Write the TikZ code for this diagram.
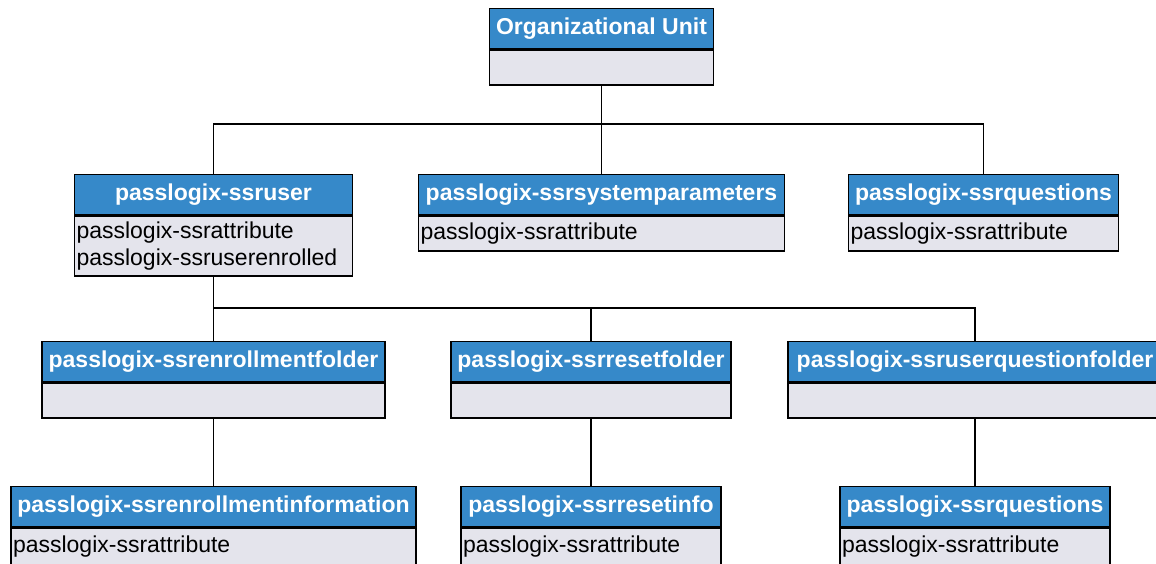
\documentclass[tikz,border=0pt]{standalone}
\usepackage{fontspec}
\setmainfont{Liberation Sans}
\definecolor{hdrblue}{RGB}{54,137,201}
\definecolor{bodygrey}{RGB}{228,228,236}
\begin{document}
\begin{tikzpicture}[x=1pt,y=-1pt,
  hdr/.style={draw=black, line width=1.8pt, fill=hdrblue, text=white,
    font=\fontsize{23}{27}\selectfont\bfseries, minimum height=40pt,
    inner sep=0pt, anchor=north},
  bod/.style={draw=black, line width=1.8pt, fill=bodygrey, text=black,
    font=\fontsize{23}{27}\selectfont, minimum height=35pt,
    inner xsep=2pt, inner ysep=0pt, align=left, anchor=north},
  conn/.style={draw=black, line width=1.4pt}]
\useasboundingbox (0,0) rectangle (1156,563);
% level 0
\node[hdr, minimum width=224pt] (org) at (601.5,7.5) {Organizational Unit};
\node[bod, minimum width=224pt, text width=220pt] (orgb) at (org.south) {};
% level 1
\node[hdr, minimum width=278pt] (user) at (213.5,173.5) {passlogix-ssruser};
\node[bod, minimum width=278pt, text width=274pt, minimum height=60pt] (userb) at (user.south) {passlogix-ssrattribute\\passlogix-ssruserenrolled};
\node[hdr, minimum width=366pt] (sys) at (601.5,173.5) {passlogix-ssrsystemparameters};
\node[bod, minimum width=366pt, text width=362pt] (sysb) at (sys.south) {passlogix-ssrattribute};
\node[hdr, minimum width=270pt] (quest) at (983.5,173.5) {passlogix-ssrquestions};
\node[bod, minimum width=270pt, text width=266pt] (questb) at (quest.south) {passlogix-ssrattribute};
% level 2
\node[hdr, minimum width=343pt] (enf) at (213.5,340.5) {passlogix-ssrenrollmentfolder};
\node[bod, minimum width=343pt, text width=339pt] (enfb) at (enf.south) {};
\node[hdr, minimum width=280pt] (rsf) at (591,340.5) {passlogix-ssrresetfolder};
\node[bod, minimum width=280pt, text width=276pt] (rsfb) at (rsf.south) {};
\node[hdr, minimum width=374pt] (uqf) at (975,340.5) {passlogix-ssruserquestionfolder};
\node[bod, minimum width=374pt, text width=370pt] (uqfb) at (uqf.south) {};
% level 3
\node[hdr, minimum width=405pt] (eni) at (213.5,485.5) {passlogix-ssrenrollmentinformation};
\node[bod, minimum width=405pt, text width=401pt, minimum height=37pt] (enib) at (eni.south) {passlogix-ssrattribute};
\node[hdr, minimum width=260pt] (rsi) at (591,485.5) {passlogix-ssrresetinfo};
\node[bod, minimum width=260pt, text width=256pt, minimum height=37pt] (rsib) at (rsi.south) {passlogix-ssrattribute};
\node[hdr, minimum width=270pt] (qs2) at (975,485.5) {passlogix-ssrquestions};
\node[bod, minimum width=270pt, text width=266pt, minimum height=37pt] (qs2b) at (qs2.south) {passlogix-ssrattribute};
% connectors
\coordinate (j1) at (601.5,124);
\coordinate (j2) at (213.5,308);
\draw[conn] (orgb.south) -- (j1);
\draw[conn] (user.north) |- (j1);
\draw[conn] (quest.north) |- (j1);
\draw[conn] (sys.north) |- (j1);
\draw[conn] (userb.south) -- (enf.north);
\draw[conn] (rsf.north) |- (j2);
\draw[conn] (uqf.north) |- (j2);
\draw[conn] (enfb.south) -- (eni.north);
\draw[conn] (rsfb.south) -- (rsi.north);
\draw[conn] (uqfb.south) -- (qs2.north);
\end{tikzpicture}
\end{document}
